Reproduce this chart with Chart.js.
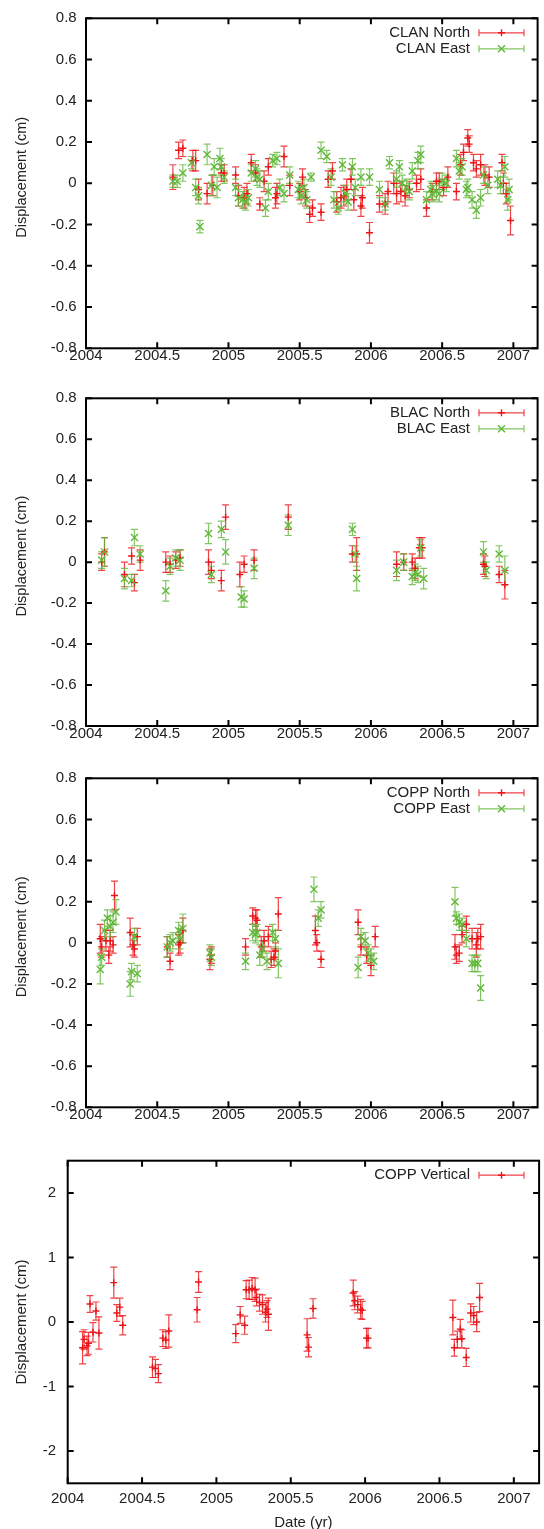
<!DOCTYPE html>
<html>
<head>
<meta charset="utf-8">
<title>GPS displacement time series</title>
<script src="https://cdn.jsdelivr.net/npm/chart.js@4.4.0/dist/chart.umd.min.js"></script>
<style>
  html, body { margin: 0; padding: 0; background: #fff; }
  body { width: 544px; height: 1529px; position: relative; overflow: hidden; }
  .panel { position: absolute; left: 0; width: 544px; }
</style>
</head>
<body>
<div class="panel" style="top:0;height:380px"><canvas id="clan"></canvas></div>
<div class="panel" style="top:380px;height:380px"><canvas id="blac"></canvas></div>
<div class="panel" style="top:760px;height:380px"><canvas id="copp"></canvas></div>
<div class="panel" style="top:1140px;height:389px"><canvas id="coppVert"></canvas></div>
<script>
// axes
const xMin = 2004, xMax = 2007.17;
const xTicks = [2004, 2004.5, 2005, 2005.5, 2006, 2006.5, 2007];
const yTicksHoriz = [-0.8, -0.6, -0.4, -0.2, 0, 0.2, 0.4, 0.6, 0.8];
const yTicksVert = [-2, -1, 0, 1, 2];

// CLAN
const clanNorthT = [2004.61,2004.65,2004.68,2004.75,2004.77,2004.79,2004.85,2004.89,2004.95,2004.97,
  2005.05,2005.07,2005.11,2005.13,2005.16,2005.19,2005.22,2005.25,2005.28,2005.33,
  2005.34,2005.39,2005.43,2005.50,2005.52,2005.54,2005.57,2005.59,2005.65,2005.70,
  2005.73,2005.76,2005.79,2005.81,2005.83,2005.86,2005.88,2005.93,2005.94,2005.99,
  2006.06,2006.10,2006.12,2006.16,2006.18,2006.21,2006.24,2006.27,2006.32,2006.35,
  2006.39,2006.43,2006.46,2006.48,2006.51,2006.54,2006.60,2006.63,2006.65,2006.68,
  2006.69,2006.72,2006.74,2006.77,2006.80,2006.83,2006.92,2006.93,2006.95,2006.98];
const clanNorthV = [0.03,0.16,0.17,0.11,0.11,-0.03,-0.05,-0.01,0.05,0.05,
  0.04,-0.06,-0.07,-0.05,0.10,0.05,-0.10,0.01,0.08,-0.07,
  -0.05,0.13,-0.01,-0.04,0.03,-0.07,-0.15,-0.12,-0.14,0.02,
  0.06,-0.09,-0.07,-0.06,-0.03,0.02,-0.08,-0.11,-0.07,-0.24,
  -0.10,-0.10,-0.04,0.00,-0.05,-0.04,-0.06,-0.03,0.00,0.02,
  -0.12,-0.04,0.01,0.01,-0.02,0.03,-0.04,0.09,0.15,0.22,
  0.19,0.10,0.07,0.09,0.04,0.03,0.10,0.00,-0.05,-0.18];
const clanNorthE = [0.06,0.04,0.04,0.05,0.05,0.05,0.05,0.05,0.04,0.04,
  0.04,0.05,0.05,0.05,0.04,0.04,0.03,0.05,0.04,0.05,
  0.05,0.05,0.05,0.04,0.04,0.04,0.04,0.04,0.04,0.04,
  0.04,0.05,0.05,0.05,0.05,0.05,0.05,0.05,0.05,0.05,
  0.04,0.05,0.05,0.05,0.05,0.05,0.05,0.04,0.04,0.05,
  0.04,0.04,0.04,0.04,0.04,0.05,0.04,0.05,0.04,0.04,
  0.04,0.04,0.04,0.05,0.05,0.05,0.04,0.05,0.05,0.07];
const clanEastT = [2004.61,2004.64,2004.68,2004.74,2004.77,2004.79,2004.80,2004.85,2004.88,2004.90,
  2004.92,2004.94,2004.95,2004.97,2005.05,2005.07,2005.10,2005.12,2005.14,2005.16,
  2005.19,2005.20,2005.22,2005.26,2005.28,2005.31,2005.34,2005.36,2005.39,2005.43,
  2005.49,2005.51,2005.53,2005.55,2005.58,2005.65,2005.69,2005.72,2005.74,2005.77,
  2005.80,2005.82,2005.84,2005.87,2005.89,2005.93,2005.99,2006.06,2006.10,2006.13,
  2006.18,2006.20,2006.22,2006.25,2006.27,2006.29,2006.33,2006.35,2006.39,2006.42,
  2006.43,2006.46,2006.48,2006.50,2006.53,2006.60,2006.62,2006.64,2006.67,2006.68,
  2006.71,2006.74,2006.77,2006.79,2006.82,2006.89,2006.91,2006.94,2006.96,2006.97];
const clanEastV = [0.01,0.01,0.05,0.10,-0.02,-0.06,-0.21,0.14,-0.01,0.08,
  -0.02,0.12,0.08,0.03,-0.02,-0.07,-0.08,-0.09,-0.07,0.05,
  0.07,0.03,0.02,-0.12,-0.04,0.11,0.12,-0.02,-0.05,0.04,
  -0.03,-0.06,-0.02,-0.08,0.03,0.16,0.13,0.03,-0.08,-0.12,
  0.09,-0.05,-0.09,0.08,-0.02,0.03,0.03,-0.03,-0.10,0.10,
  0.02,0.08,0.00,-0.02,-0.04,0.06,0.11,0.14,-0.08,-0.03,
  -0.05,-0.04,-0.05,0.01,0.00,0.12,0.06,0.08,-0.03,-0.02,
  -0.08,-0.13,-0.07,0.04,-0.01,0.02,-0.01,0.08,-0.08,-0.03];
const clanEastE = [0.03,0.03,0.04,0.03,0.04,0.04,0.03,0.05,0.05,0.04,
  0.05,0.05,0.04,0.03,0.04,0.04,0.04,0.04,0.04,0.04,
  0.04,0.04,0.04,0.04,0.04,0.03,0.03,0.04,0.04,0.04,
  0.04,0.04,0.04,0.04,0.02,0.04,0.03,0.04,0.04,0.03,
  0.03,0.04,0.04,0.04,0.04,0.04,0.04,0.04,0.03,0.03,
  0.04,0.03,0.04,0.04,0.04,0.04,0.04,0.04,0.04,0.04,
  0.04,0.04,0.04,0.04,0.04,0.04,0.04,0.04,0.04,0.04,
  0.04,0.04,0.04,0.04,0.04,0.04,0.04,0.05,0.05,0.05];

// BLAC
const blacNorthT = [2004.11,2004.13,2004.27,2004.32,2004.34,2004.38,2004.56,2004.59,2004.63,2004.66,
  2004.86,2004.88,2004.95,2004.98,2005.08,2005.11,2005.18,2005.42,2005.87,2005.90,
  2006.18,2006.23,2006.29,2006.31,2006.34,2006.36,2006.79,2006.80,2006.90,2006.94];
const blacNorthV = [0.00,0.05,-0.06,0.03,-0.10,0.01,0.00,-0.01,0.01,0.02,
  0.00,-0.04,-0.09,0.22,-0.06,-0.01,0.01,0.22,0.04,0.04,
  -0.01,0.00,0.00,-0.03,0.07,0.07,-0.01,-0.02,-0.06,-0.11];
const blacNorthE = [0.04,0.07,0.06,0.04,0.04,0.05,0.05,0.04,0.04,0.04,
  0.06,0.04,0.05,0.06,0.06,0.04,0.05,0.06,0.04,0.08,
  0.06,0.04,0.04,0.05,0.05,0.05,0.05,0.05,0.04,0.07];
const blacEastT = [2004.11,2004.13,2004.27,2004.32,2004.34,2004.38,2004.56,2004.59,2004.63,2004.66,
  2004.86,2004.88,2004.95,2004.98,2005.09,2005.11,2005.18,2005.42,2005.87,2005.89,
  2005.90,2006.18,2006.23,2006.29,2006.31,2006.33,2006.35,2006.37,2006.79,2006.81,
  2006.90,2006.94];
const blacEastV = [0.01,0.05,-0.08,-0.09,0.12,0.04,-0.14,-0.02,0.02,0.01,
  0.14,-0.06,0.16,0.05,-0.17,-0.18,-0.03,0.18,0.16,0.04,
  -0.08,-0.04,0.00,-0.07,-0.05,-0.06,0.07,-0.08,0.05,-0.04,
  0.04,-0.04];
const blacEastE = [0.04,0.07,0.05,0.03,0.04,0.04,0.05,0.04,0.04,0.05,
  0.05,0.04,0.04,0.06,0.05,0.04,0.05,0.05,0.03,0.04,
  0.06,0.05,0.04,0.04,0.04,0.04,0.04,0.05,0.05,0.04,
  0.04,0.07];

// COPP
const coppNorthT = [2004.10,2004.11,2004.14,2004.16,2004.17,2004.19,2004.20,2004.31,2004.33,2004.34,
  2004.36,2004.57,2004.59,2004.65,2004.66,2004.68,2004.87,2004.88,2005.12,2005.17,
  2005.19,2005.20,2005.23,2005.25,2005.28,2005.30,2005.32,2005.33,2005.35,2005.61,
  2005.62,2005.65,2005.91,2005.93,2005.97,2006.00,2006.03,2006.59,2006.60,2006.62,
  2006.64,2006.67,2006.71,2006.74,2006.75,2006.77];
const coppNorthV = [0.02,-0.02,0.01,-0.06,0.01,-0.01,0.23,0.05,-0.01,-0.03,
  0.03,-0.02,-0.09,-0.01,0.00,0.06,-0.08,-0.06,-0.02,0.13,
  0.12,0.11,-0.02,0.01,0.03,-0.08,-0.07,-0.04,0.14,0.06,
  0.00,-0.08,0.10,-0.02,-0.06,-0.11,0.03,-0.02,-0.06,-0.05,
  0.04,0.09,0.02,-0.01,0.02,0.03];
const coppNorthE = [0.07,0.05,0.05,0.04,0.05,0.04,0.07,0.07,0.05,0.04,
  0.04,0.05,0.04,0.05,0.05,0.06,0.05,0.04,0.04,0.04,
  0.04,0.05,0.05,0.05,0.05,0.04,0.04,0.04,0.08,0.07,
  0.04,0.04,0.06,0.04,0.04,0.05,0.05,0.06,0.04,0.04,
  0.04,0.04,0.05,0.06,0.05,0.06];
const coppEastT = [2004.10,2004.11,2004.13,2004.15,2004.17,2004.19,2004.21,2004.31,2004.32,2004.34,
  2004.36,2004.57,2004.59,2004.61,2004.65,2004.66,2004.68,2004.87,2004.88,2005.12,
  2005.17,2005.19,2005.20,2005.22,2005.24,2005.27,2005.31,2005.33,2005.35,2005.60,
  2005.63,2005.65,2005.91,2005.93,2005.96,2005.98,2006.00,2006.02,2006.59,2006.60,
  2006.62,2006.64,2006.67,2006.71,2006.73,2006.75,2006.77];
const coppEastV = [-0.13,-0.07,0.06,0.12,0.08,0.10,0.15,-0.20,-0.14,0.03,
  -0.15,-0.02,0.00,0.01,0.06,0.02,0.07,-0.05,-0.07,-0.09,
  0.05,0.04,0.05,-0.06,-0.03,-0.09,0.05,0.02,-0.10,0.26,
  0.12,0.16,-0.12,0.03,0.01,-0.05,-0.07,-0.09,0.20,0.12,
  0.10,0.09,0.02,-0.10,-0.10,-0.10,-0.22];
const coppEastE = [0.07,0.04,0.05,0.04,0.05,0.05,0.06,0.06,0.04,0.04,
  0.04,0.05,0.04,0.04,0.04,0.05,0.07,0.04,0.04,0.04,
  0.04,0.04,0.04,0.05,0.04,0.04,0.04,0.04,0.07,0.06,
  0.04,0.04,0.05,0.04,0.04,0.04,0.04,0.04,0.07,0.03,
  0.04,0.03,0.04,0.04,0.04,0.04,0.06];
const coppVertT = [2004.10,2004.11,2004.13,2004.14,2004.15,2004.17,2004.19,2004.21,2004.31,2004.33,
  2004.35,2004.37,2004.57,2004.59,2004.61,2004.64,2004.66,2004.68,2004.87,2004.88,
  2005.13,2005.16,2005.19,2005.20,2005.22,2005.24,2005.26,2005.27,2005.29,2005.31,
  2005.33,2005.34,2005.35,2005.61,2005.62,2005.65,2005.92,2005.93,2005.95,2005.97,
  2005.98,2006.01,2006.02,2006.59,2006.60,2006.62,2006.64,2006.65,2006.68,2006.71,
  2006.73,2006.75,2006.77];
const coppVertV = [-0.40,-0.27,-0.37,-0.33,0.28,-0.16,0.17,-0.17,0.61,0.14,
  0.23,-0.05,-0.70,-0.72,-0.80,-0.25,-0.28,-0.14,0.19,0.62,
  -0.18,0.11,-0.05,0.50,0.50,0.52,0.50,0.38,0.30,0.27,
  0.15,0.20,0.12,-0.20,-0.39,0.21,0.45,0.33,0.27,0.20,
  0.18,-0.25,-0.25,0.07,-0.40,-0.27,-0.11,-0.26,-0.55,0.14,
  0.10,0.00,0.38];
const coppVertE = [0.25,0.15,0.15,0.17,0.13,0.15,0.14,0.25,0.24,0.13,
  0.14,0.15,0.16,0.14,0.14,0.13,0.13,0.25,0.19,0.16,
  0.14,0.13,0.14,0.14,0.15,0.17,0.18,0.13,0.13,0.15,
  0.15,0.13,0.25,0.25,0.15,0.15,0.20,0.14,0.13,0.15,
  0.14,0.15,0.15,0.27,0.13,0.13,0.15,0.14,0.14,0.14,
  0.14,0.15,0.22];

const RED = "rgb(235,20,25)";
const RED_BAR = "rgba(235,20,25,0.8)";
const GREEN = "rgb(98,184,58)";
const GREEN_BAR = "rgba(98,184,58,0.8)";
const FONT = "'Liberation Sans', Arial, Helvetica, sans-serif";

Chart.defaults.font.family = FONT;
Chart.defaults.color = "#222";

function series(label, t, v, e, kind) {
  const north = kind === "north";
  return {
    label: label,
    data: t.map((x, i) => ({ x: x, y: v[i] })),
    errs: e,
    barColor: north ? RED_BAR : GREEN_BAR,
    mark: north ? "plus" : "cross",
    pointStyle: north ? "cross" : "crossRot",
    pointRadius: north ? 3.5 : 5,
    pointHoverRadius: 0,
    pointBorderWidth: 1.4,
    borderColor: north ? RED : GREEN,
    backgroundColor: north ? RED : GREEN,
    order: north ? 1 : 0,
    showLine: false,
  };
}

function drawMark(ctx, kind, x, y, r) {
  ctx.beginPath();
  if (kind === "plus") {
    ctx.moveTo(x - r, y); ctx.lineTo(x + r, y);
    ctx.moveTo(x, y - r); ctx.lineTo(x, y + r);
  } else {
    ctx.moveTo(x - r, y - r); ctx.lineTo(x + r, y + r);
    ctx.moveTo(x - r, y + r); ctx.lineTo(x + r, y - r);
  }
  ctx.stroke();
}

// error bars, frame with inward ticks, y label, gnuplot style key
const gnuplotLook = {
  id: "gnuplotLook",
  beforeDatasetsDraw(chart) {
    const { ctx, chartArea: a } = chart;
    const xs = chart.scales.x, ys = chart.scales.y;
    const cap = 3.5;
    ctx.save();
    ctx.beginPath();
    ctx.rect(a.left, a.top, a.right - a.left, a.bottom - a.top);
    ctx.clip();
    ctx.lineWidth = 1.2;
    chart.data.datasets.forEach((ds) => {
      ctx.strokeStyle = ds.barColor;
      ds.data.forEach((p, i) => {
        const px = xs.getPixelForValue(p.x);
        const lo = ys.getPixelForValue(p.y - ds.errs[i]);
        const hi = ys.getPixelForValue(p.y + ds.errs[i]);
        ctx.beginPath();
        ctx.moveTo(px, lo); ctx.lineTo(px, hi);
        ctx.moveTo(px - cap, lo); ctx.lineTo(px + cap, lo);
        ctx.moveTo(px - cap, hi); ctx.lineTo(px + cap, hi);
        ctx.stroke();
      });
    });
    ctx.restore();
  },
  afterDraw(chart) {
    const { ctx, chartArea: a } = chart;
    const xs = chart.scales.x, ys = chart.scales.y;
    const opts = chart.options.plugins.gnuplotLook;
    const tl = 6;
    ctx.save();
    ctx.strokeStyle = "#000";
    ctx.lineWidth = 2;
    ctx.beginPath();
    xTicks.forEach((v) => {
      const px = xs.getPixelForValue(v);
      ctx.moveTo(px, a.bottom); ctx.lineTo(px, a.bottom - tl);
      ctx.moveTo(px, a.top); ctx.lineTo(px, a.top + tl);
    });
    opts.yTicks.forEach((v) => {
      const py = ys.getPixelForValue(v);
      ctx.moveTo(a.left, py); ctx.lineTo(a.left + tl, py);
      ctx.moveTo(a.right, py); ctx.lineTo(a.right - tl, py);
    });
    ctx.stroke();
    ctx.strokeRect(a.left, a.top, a.right - a.left, a.bottom - a.top);

    // y label, gnuplot puts it a little above the middle of the frame
    ctx.save();
    ctx.translate(21.5, (a.top + a.bottom) / 2 + opts.yLabelShift);
    ctx.rotate(-Math.PI / 2);
    ctx.font = opts.yLabelSize + "px " + FONT;
    ctx.fillStyle = "#222";
    ctx.textAlign = "center";
    ctx.textBaseline = "middle";
    ctx.fillText("Displacement (cm)", 0, 0);
    ctx.restore();

    // key
    ctx.font = "15px " + FONT;
    ctx.textAlign = "right";
    ctx.textBaseline = "middle";
    chart.data.datasets.forEach((ds, i) => {
      const y = a.top + 14.5 + 16 * i;
      ctx.fillStyle = "#222";
      ctx.fillText(ds.label, 470, y);
      ctx.strokeStyle = ds.barColor;
      ctx.lineWidth = 1.2;
      ctx.beginPath();
      ctx.moveTo(479, y); ctx.lineTo(524, y);
      ctx.moveTo(479, y - 3.5); ctx.lineTo(479, y + 3.5);
      ctx.moveTo(524, y - 3.5); ctx.lineTo(524, y + 3.5);
      ctx.stroke();
      ctx.strokeStyle = ds.borderColor;
      ctx.lineWidth = 1.4;
      drawMark(ctx, ds.mark, 501.5, y, 3.5);
    });
    ctx.restore();
  },
};

function makePanel(id, datasets, p) {
  return new Chart(document.getElementById(id), {
    type: "scatter",
    data: { datasets: datasets },
    plugins: [gnuplotLook],
    options: {
      animation: false,
      responsive: true,
      maintainAspectRatio: false,
      events: [],
      layout: { padding: { top: p.padTop, right: 4, left: 0, bottom: 0 } },
      plugins: {
        legend: { display: false },
        tooltip: { enabled: false },
        gnuplotLook: { yTicks: p.yTicks, yLabelShift: p.yLabelShift, yLabelSize: p.yLabelSize },
      },
      scales: {
        x: {
          type: "linear",
          min: xMin,
          max: xMax,
          grid: { display: false, drawTicks: false },
          border: { display: false },
          afterBuildTicks: (ax) => { ax.ticks = xTicks.map((v) => ({ value: v })); },
          afterFit: (ax) => { ax.height = p.xHeight; },
          ticks: {
            autoSkip: false, maxRotation: 0, padding: p.xPad,
            font: { size: 15 }, color: "#222",
            callback: (v) => String(v),
          },
          title: {
            display: !!p.xTitle, text: p.xTitle || "",
            font: { size: 15 }, color: "#222", padding: { top: 0, bottom: -3 },
          },
        },
        y: {
          type: "linear",
          min: p.yMin,
          max: p.yMax,
          grid: { display: false, drawTicks: false },
          border: { display: false },
          afterBuildTicks: (ax) => { ax.ticks = p.yTicks.map((v) => ({ value: v })); },
          afterFit: (ax) => { ax.width = p.yWidth; },
          ticks: {
            autoSkip: false, padding: p.yPad,
            font: { size: 15 }, color: "#222",
            callback: (v) => String(v),
          },
        },
      },
    },
  });
}

const smallPanel = { yMin: -0.8, yMax: 0.8, yTicks: yTicksHoriz, yWidth: 86, yPad: 9.3, xPad: -1, yLabelSize: 14.5, yLabelShift: -6 };

makePanel("clan", [
  series("CLAN North", clanNorthT, clanNorthV, clanNorthE, "north"),
  series("CLAN East", clanEastT, clanEastV, clanEastE, "east"),
], Object.assign({}, smallPanel, { padTop: 12.7, xHeight: 31.7 }));

makePanel("blac", [
  series("BLAC North", blacNorthT, blacNorthV, blacNorthE, "north"),
  series("BLAC East", blacEastT, blacEastV, blacEastE, "east"),
], Object.assign({}, smallPanel, { padTop: 10, xHeight: 34 }));

makePanel("copp", [
  series("COPP North", coppNorthT, coppNorthV, coppNorthE, "north"),
  series("COPP East", coppEastT, coppEastV, coppEastE, "east"),
], Object.assign({}, smallPanel, { padTop: 10.7, xHeight: 32.7 }));

makePanel("coppVert", [
  series("COPP Vertical", coppVertT, coppVertV, coppVertE, "north"),
], {
  yMin: -2.5, yMax: 2.5, yTicks: yTicksVert, yWidth: 67.7, yPad: 11.7,
  xPad: 7, yLabelSize: 15, yLabelShift: 0,
  padTop: 7.3, xHeight: 45.7, xTitle: "Date (yr)",
});
</script>
</body>
</html>
